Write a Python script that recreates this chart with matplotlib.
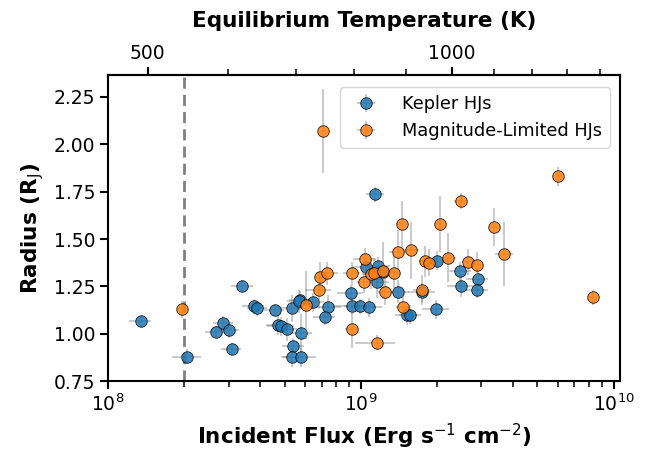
import numpy as np
import matplotlib
matplotlib.use("Agg")
import matplotlib.pyplot as plt
from matplotlib.ticker import FixedLocator, NullFormatter, FixedFormatter

# Kepler HJs: incident flux (erg s^-1 cm^-2), radius (R_J), errors
kep_flux = [1.35e8, 2.06e8, 2.68e8, 2.86e8, 3.01e8, 3.09e8, 3.40e8, 3.78e8, 3.89e8,
            4.57e8, 4.69e8, 4.85e8, 5.11e8, 5.36e8, 5.42e8, 5.36e8, 5.81e8, 5.76e8,
            5.70e8, 5.81e8, 6.50e8, 7.45e8, 7.22e8, 9.12e8, 9.23e8, 9.96e8, 1.08e9,
            1.05e9, 1.17e9, 1.23e9, 1.16e9, 1.41e9, 1.75e9, 1.52e9, 1.57e9, 2.01e9,
            1.99e9, 2.48e9, 2.50e9, 2.90e9, 2.89e9, 1.14e9]
kep_rad = [1.065, 0.880, 1.010, 1.056, 1.018, 0.919, 1.252, 1.146, 1.134,
           1.123, 1.044, 1.040, 1.023, 1.134, 0.937, 0.875, 0.875, 1.178,
           1.172, 1.005, 1.167, 1.143, 1.088, 1.215, 1.145, 1.145, 1.139,
           1.351, 1.357, 1.327, 1.271, 1.222, 1.218, 1.097, 1.100, 1.385,
           1.129, 1.331, 1.253, 1.287, 1.231, 1.736]
kep_flux_err = [0.10, 0.13, 0.10, 0.09, 0.10, 0.09, 0.10, 0.10, 0.09,
                0.09, 0.10, 0.12, 0.10, 0.12, 0.10, 0.10, 0.15, 0.10,
                0.10, 0.10, 0.10, 0.12, 0.10, 0.12, 0.15, 0.14, 0.12,
                0.12, 0.12, 0.10, 0.12, 0.10, 0.12, 0.10, 0.10, 0.14,
                0.12, 0.10, 0.12, 0.10, 0.10, 0.08]
kep_rad_err = [0.03, 0.04, 0.03, 0.04, 0.04, 0.03, 0.03, 0.04, 0.04,
               0.03, 0.05, 0.05, 0.06, 0.07, 0.04, 0.05, 0.05, 0.05,
               0.06, 0.10, 0.05, 0.06, 0.04, 0.04, 0.04, 0.04, 0.05,
               0.06, 0.05, 0.05, 0.08, 0.06, 0.05, 0.05, 0.05, 0.05,
               0.05, 0.05, 0.06, 0.05, 0.04, 0.04]

# Magnitude-limited HJs
mag_flux = [1.96e8, 6.10e8, 6.81e8, 6.87e8, 7.38e8, 9.23e8, 9.23e8, 7.10e8,
            1.45e9, 2.05e9, 3.36e9, 3.69e9, 1.40e9, 1.58e9, 1.04e9, 1.03e9,
            1.10e9, 1.13e9, 1.23e9, 1.35e9, 1.25e9, 1.80e9, 1.87e9, 2.21e9,
            2.65e9, 2.87e9, 1.75e9, 1.47e9, 1.16e9, 8.28e9, 2.49e9, 6.05e9]
mag_rad = [1.130, 1.151, 1.231, 1.301, 1.319, 1.319, 1.023, 2.071,
           1.579, 1.579, 1.562, 1.421, 1.430, 1.440, 1.393, 1.275,
           1.315, 1.322, 1.333, 1.322, 1.222, 1.382, 1.375, 1.401,
           1.380, 1.363, 1.231, 1.139, 0.952, 1.192, 1.701, 1.831]
mag_flux_err = [0.03, 0.05, 0.12, 0.05, 0.10, 0.08, 0.06, 0.03,
                0.04, 0.04, 0.04, 0.08, 0.08, 0.08, 0.10, 0.06,
                0.08, 0.10, 0.12, 0.06, 0.06, 0.06, 0.06, 0.08,
                0.05, 0.06, 0.08, 0.06, 0.18, 0.04, 0.06, 0.03]
mag_rad_err = [0.045, 0.18, 0.10, 0.08, 0.06, 0.06, 0.10, 0.22,
               0.12, 0.15, 0.10, 0.17, 0.12, 0.15, 0.06, 0.06,
               0.08, 0.08, 0.15, 0.09, 0.07, 0.08, 0.07, 0.13,
               0.07, 0.07, 0.08, 0.06, 0.04, 0.04, 0.04, 0.05]

flux_cut = 2e8
a_const = 2.3e-3  # F = a * T^4

fig = plt.figure(figsize=(6.54, 4.5), dpi=100)
ax = fig.add_axes([0.165, 0.153, 0.783, 0.680])

kf = np.array(kep_flux); kr = np.array(kep_rad)
mf = np.array(mag_flux); mr = np.array(mag_rad)

ax.axvline(flux_cut, color='gray', ls='--', lw=2, dashes=(4, 2.2), zorder=1)

ax.errorbar(kf, kr, xerr=kf * np.array(kep_flux_err), yerr=kep_rad_err, fmt='o',
            color='C0', mfc='C0', mec='black', mew=0.6, ms=8.3, alpha=0.85,
            ecolor='gray', elinewidth=1.3, capsize=0, label='Kepler HJs', zorder=3)
ax.errorbar(mf, mr, xerr=mf * np.array(mag_flux_err), yerr=mag_rad_err, fmt='o',
            color='C1', mfc='C1', mec='black', mew=0.6, ms=8.3, alpha=0.85,
            ecolor='gray', elinewidth=1.3, capsize=0, label='Magnitude-Limited HJs', zorder=4)
for e in ax.containers:
    for lc in e[2]:
        lc.set_alpha(0.45)

ax.set_xscale('log')
ax.set_xlim(1e8, 1.06e10)
ax.set_ylim(0.75, 2.365)
ax.set_yticks([0.75, 1.0, 1.25, 1.5, 1.75, 2.0, 2.25])
ax.set_yticklabels(['0.75', '1.00', '1.25', '1.50', '1.75', '2.00', '2.25'])

ax.tick_params(axis='both', which='major', labelsize=13.5, length=6, width=1.5,
               direction='out', pad=3)
ax.tick_params(axis='x', which='minor', length=4, width=1.1)
for sp in ax.spines.values():
    sp.set_linewidth(1.5)

ax.set_xlabel('Incident Flux (Erg s$^{-1}$ cm$^{-2}$)', fontsize=15.5, fontweight='bold',
              labelpad=5)
ax.set_ylabel('Radius (R$_\\mathrm{J}$)', fontsize=15.5, fontweight='bold', labelpad=6)

def f2t(f):
    f = np.asarray(f, dtype=float)
    return (np.clip(f, 1e-30, None) / a_const) ** 0.25

def t2f(t):
    t = np.asarray(t, dtype=float)
    return a_const * t ** 4

sec = ax.secondary_xaxis('top', functions=(f2t, t2f))
sec.set_xscale('log')
sec.xaxis.set_major_locator(FixedLocator([500, 1000]))
sec.xaxis.set_major_formatter(FixedFormatter(['500', '1000']))
sec.xaxis.set_minor_locator(FixedLocator([600, 700, 800, 900, 1100, 1200, 1300, 1400]))
sec.xaxis.set_minor_formatter(NullFormatter())
sec.tick_params(axis='x', which='major', labelsize=13.5, length=6, width=1.5, pad=3)
sec.tick_params(axis='x', which='minor', length=4, width=1.1)
sec.spines['top'].set_linewidth(1.5)
sec.set_xlabel('Equilibrium Temperature (K)', fontsize=15.5, fontweight='bold', labelpad=12)

leg = ax.legend(loc='upper right', fontsize=12.8, frameon=True, fancybox=True,
                borderpad=0.45, handletextpad=1.0, bbox_to_anchor=(0.997, 0.99))
leg.get_frame().set_edgecolor('#cccccc')

fig.savefig('out.png', dpi=100)
